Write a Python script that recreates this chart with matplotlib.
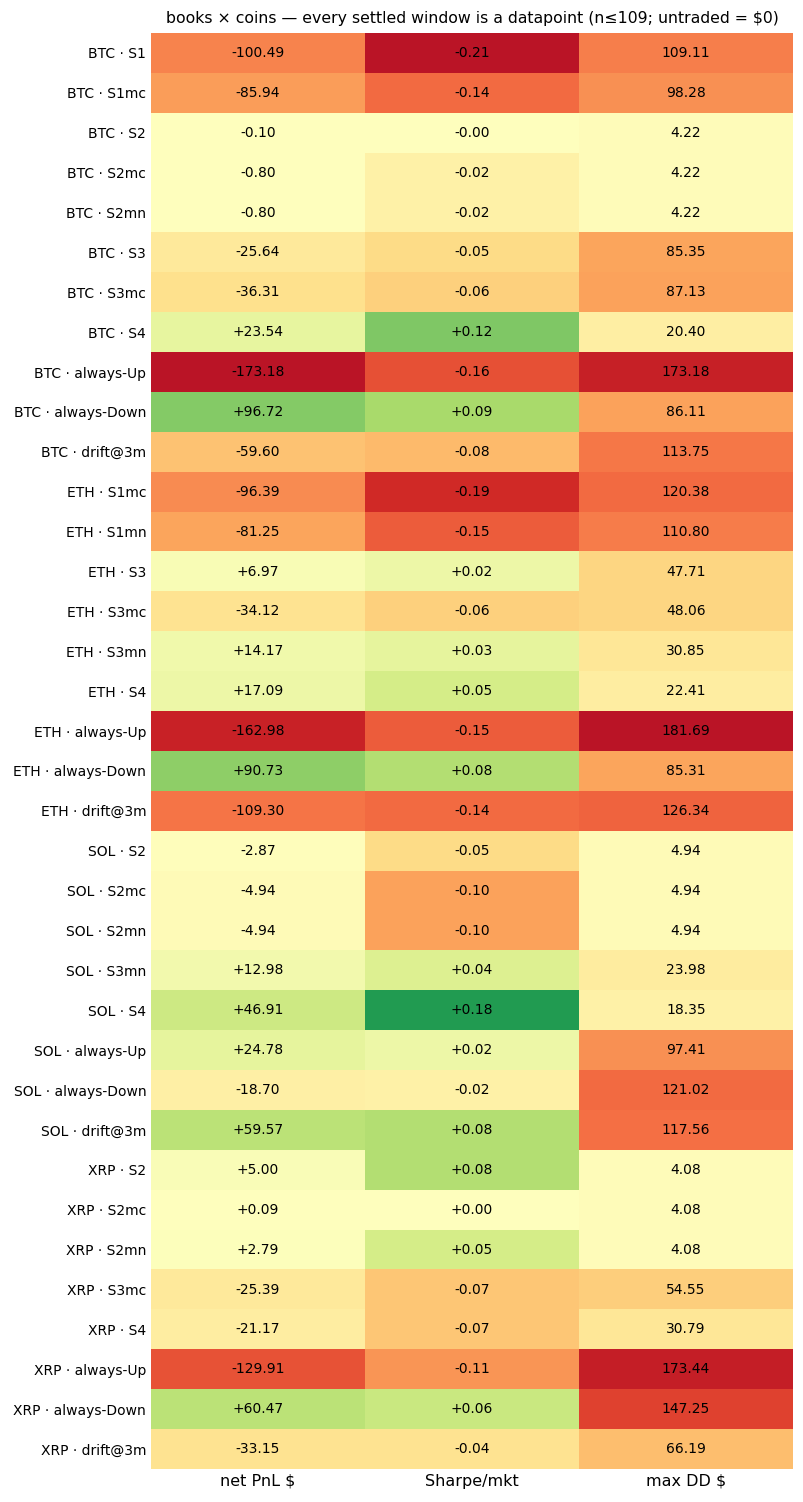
import numpy as np
import matplotlib
matplotlib.use("Agg")
from matplotlib import pyplot as plt

rows = [
    "BTC · S1", "BTC · S1mc", "BTC · S2", "BTC · S2mc", "BTC · S2mn",
    "BTC · S3", "BTC · S3mc", "BTC · S4", "BTC · always-Up",
    "BTC · always-Down", "BTC · drift@3m",
    "ETH · S1mc", "ETH · S1mn", "ETH · S3", "ETH · S3mc", "ETH · S3mn",
    "ETH · S4", "ETH · always-Up", "ETH · always-Down", "ETH · drift@3m",
    "SOL · S2", "SOL · S2mc", "SOL · S2mn", "SOL · S3mn", "SOL · S4",
    "SOL · always-Up", "SOL · always-Down", "SOL · drift@3m",
    "XRP · S2", "XRP · S2mc", "XRP · S2mn", "XRP · S3mc", "XRP · S4",
    "XRP · always-Up", "XRP · always-Down", "XRP · drift@3m",
]
columns = ["net PnL $", "Sharpe/mkt", "max DD $"]

net_pnl = [
    -100.49, -85.94, -0.10, -0.80, -0.80, -25.64, -36.31, 23.54, -173.18,
    96.72, -59.60,
    -96.39, -81.25, 6.97, -34.12, 14.17, 17.09, -162.98, 90.73, -109.30,
    -2.87, -4.94, -4.94, 12.98, 46.91, 24.78, -18.70, 59.57,
    5.00, 0.09, 2.79, -25.39, -21.17, -129.91, 60.47, -33.15,
]
sharpe = [
    -0.21, -0.14, -0.0, -0.02, -0.02, -0.05, -0.06, 0.12, -0.16, 0.09, -0.08,
    -0.19, -0.15, 0.02, -0.06, 0.03, 0.05, -0.15, 0.08, -0.14,
    -0.05, -0.10, -0.10, 0.04, 0.18, 0.02, -0.02, 0.08,
    0.08, 0.0, 0.05, -0.07, -0.07, -0.11, 0.06, -0.04,
]
max_dd = [
    109.11, 98.28, 4.22, 4.22, 4.22, 85.35, 87.13, 20.40, 173.18, 86.11,
    113.75,
    120.38, 110.80, 47.71, 48.06, 30.85, 22.41, 181.69, 85.31, 126.34,
    4.94, 4.94, 4.94, 23.98, 18.35, 97.41, 121.02, 117.56,
    4.08, 4.08, 4.08, 54.55, 30.79, 173.44, 147.25, 66.19,
]

cmap = plt.get_cmap("RdYlGn")


def colour_col(vals):
    # symmetric scale around zero, a bit of headroom so extremes aren't black-ish
    vals = np.asarray(vals, dtype=float)
    m = np.abs(vals).max() * 1.1
    return cmap((vals + m) / (2 * m))


rgb = np.stack([
    colour_col(net_pnl),
    colour_col(sharpe),
    colour_col(-np.asarray(max_dd)),  # big drawdown = red
], axis=1)

fig = plt.figure(figsize=(8.04, 15.02), dpi=100)
ax = fig.add_axes([151 / 804, 1 - 1469 / 1502, 642 / 804, 1436 / 1502])
ax.imshow(rgb, aspect="auto", interpolation="nearest")

for i in range(len(rows)):
    ax.text(0, i, "{:+.2f}".format(net_pnl[i]), ha="center", va="center",
            fontsize=10, color="black")
    ax.text(1, i, "{:+.2f}".format(sharpe[i]), ha="center", va="center",
            fontsize=10, color="black")
    ax.text(2, i, "{:.2f}".format(max_dd[i]), ha="center", va="center",
            fontsize=10, color="black")

ax.set_xticks(range(len(columns)))
ax.set_xticklabels(columns, fontsize=11.5)
ax.set_yticks(range(len(rows)))
ax.set_yticklabels(rows, fontsize=10)
ax.tick_params(length=0)
for s in ax.spines.values():
    s.set_visible(False)
ax.set_title("books × coins — every settled window is a datapoint "
             "(n≤109; untraded = $0)", fontsize=11.3, pad=7)

fig.savefig("out.png", dpi=100)
